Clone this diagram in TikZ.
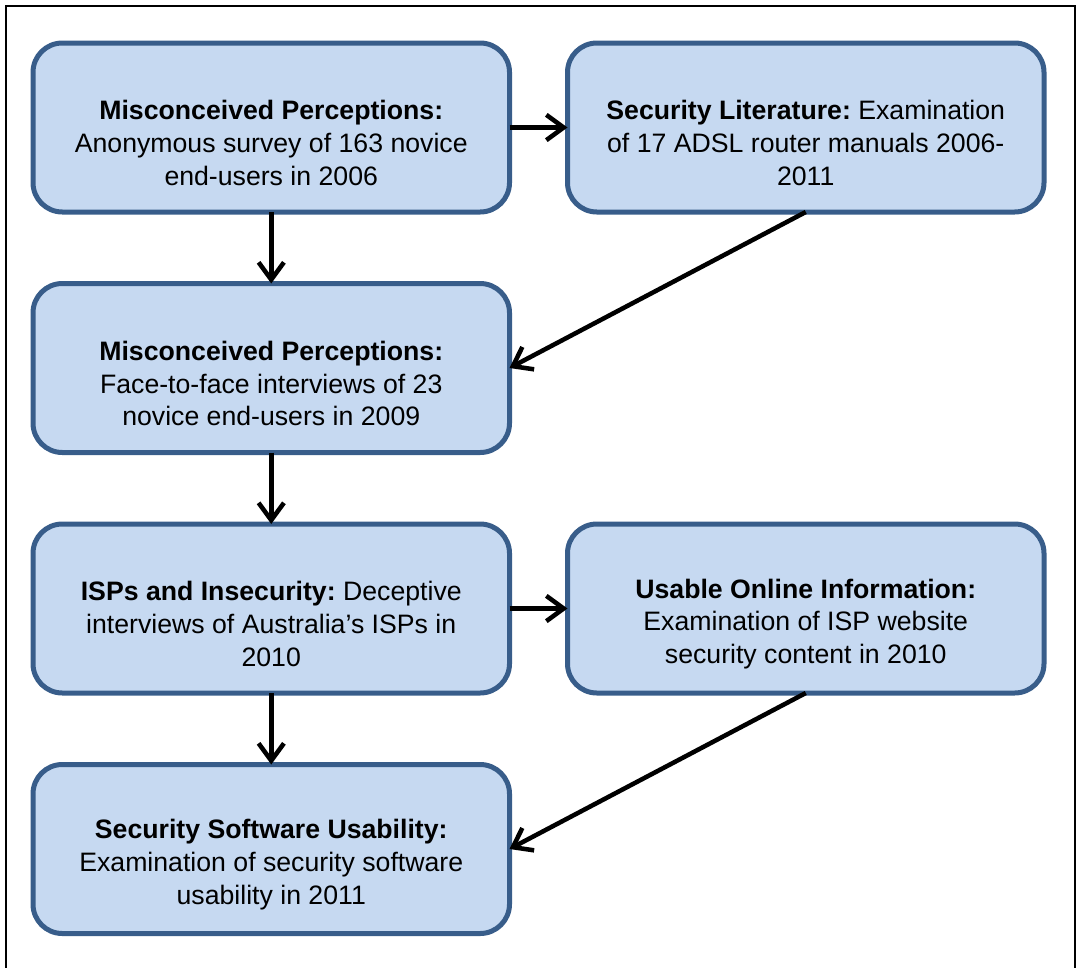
\documentclass[tikz,border=0pt]{standalone}
\usepackage{fontspec}
\setmainfont{Liberation Sans}
\usetikzlibrary{arrows.meta,calc}
\definecolor{boxfill}{HTML}{C6D9F1}
\definecolor{boxline}{HTML}{385D8A}
\begin{document}
\begin{tikzpicture}[x=0.75pt,y=-0.75pt,
  box/.style={draw=boxline,fill=boxfill,line width=3.75pt,rounded corners=22pt,
    minimum width=476.5*0.75pt,minimum height=169*0.75pt,outer sep=0pt,inner sep=0pt},
  txt/.style={align=center,font=\fontsize{20}{24.5}\selectfont,inner sep=0pt},
  arr/.style={line width=3.4pt,-{Straight Barb[length=13pt,width=19pt]}}]
\useasboundingbox (0,0) rectangle (1077,967);
\begin{scope}
\clip (0,0) rectangle (1077,967);
\draw[line width=2pt] (6,6) rectangle (1075,990);
\end{scope}
\node[box] (b1) at (271.25,127.5) {};
\node[box] (b2) at (805.75,127.5) {};
\node[box] (b3) at (271.25,368) {};
\node[box] (b4) at (271.25,608.5) {};
\node[box] (b5) at (805.75,608.5) {};
\node[box] (b6) at (271.25,849) {};
\node[txt] (t1) at ($(b1.center)+(0,15.5)$) {\textbf{Misconceived Perceptions:}\\Anonymous survey of 163 novice\\end-users in 2006};
\node[txt] (t2) at ($(b2.center)+(0,15.5)$) {\textbf{Security Literature:}~Examination\\of 17 ADSL router manuals 2006-\\2011};
\node[txt] (t3) at ($(b3.center)+(0,15.5)$) {\textbf{Misconceived Perceptions:}\\Face-to-face interviews of 23\\novice end-users in 2009};
\node[txt] (t4) at ($(b4.center)+(0,15.5)$) {\textbf{ISPs and Insecurity:}~Deceptive\\interviews of Australia’s ISPs in\\2010};
\node[txt] (t5) at ($(b5.center)+(0,15.5)$) {\textbf{Usable Online Information:}\\Examination of ISP website\\security content in 2010};
\node[txt] (t6) at ($(b6.center)+(0,15.5)$) {\textbf{Security Software Usability:}\\Examination of security software\\usability in 2011};
\draw[arr] (b1.east) -- (b2.west);
\draw[arr] (b1.south) -- (b3.north);
\draw[arr] (b2.south) -- (b3.east);
\draw[arr] (b3.south) -- (b4.north);
\draw[arr] (b4.east) -- (b5.west);
\draw[arr] (b4.south) -- (b6.north);
\draw[arr] (b5.south) -- (b6.east);
\end{tikzpicture}
\end{document}
